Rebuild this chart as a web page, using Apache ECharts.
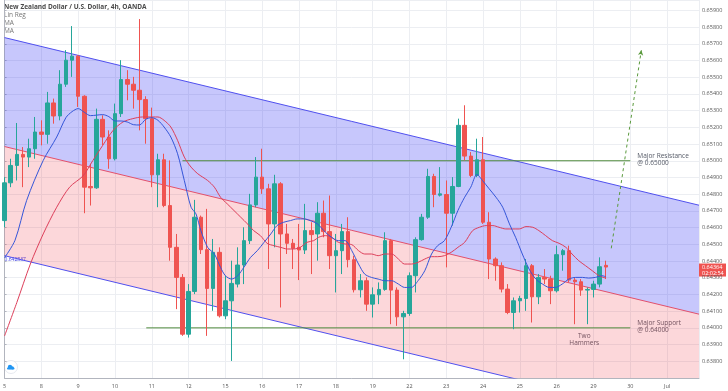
<!DOCTYPE html>
<html><head><meta charset="utf-8">
<script src="https://cdn.jsdelivr.net/npm/echarts@6/dist/echarts.min.js"></script>
<style>html,body{margin:0;padding:0;background:#fff}#c{width:728px;height:391px}</style>
</head><body><div id="c"></div>
<script>
// ---- data ----
const dayLabels = ['5','8','9','10','11','12','15','16','17','18','19','22','23','24','25','26','29','30','Jul'];
// [open, close, low, high] per 4h candle
const ohlc = [
[0.64642,0.64868,0.64602,0.64902],[0.64868,0.64972,0.64842,0.65012],[0.64972,0.65038,0.64882,0.65226],
[0.65038,0.65022,0.64842,0.65082],[0.65022,0.65072,0.64962,0.65132],[0.65072,0.65172,0.65012,0.65262],
[0.65172,0.65158,0.65092,0.65242],[0.65158,0.65346,0.65102,0.65412],[0.65346,0.65268,0.65222,0.65372],
[0.65268,0.65458,0.65242,0.65542],[0.65458,0.65602,0.65442,0.65662],[0.65602,0.65626,0.65502,0.65806],
[0.65626,0.65386,0.65322,0.65632],[0.65386,0.64842,0.64686,0.65392],[0.64846,0.64838,0.64732,0.64982],
[0.64838,0.65248,0.64832,0.65312],[0.65248,0.65142,0.65092,0.65272],[0.65142,0.65012,0.64952,0.65182],
[0.65012,0.65282,0.65002,0.65342],[0.65282,0.65486,0.65262,0.65602],[0.65486,0.65458,0.65362,0.65542],
[0.65458,0.65422,0.65312,0.65502],[0.65422,0.65366,0.65182,0.65848],[0.65366,0.65252,0.65102,0.65386],
[0.65252,0.64916,0.64842,0.65318],[0.64916,0.65006,0.64722,0.65042],[0.65006,0.64732,0.64722,0.65042],
[0.64732,0.64482,0.64402,0.65002],[0.64482,0.64302,0.64112,0.64562],[0.64302,0.63962,0.63952,0.64322],
[0.63962,0.64218,0.63942,0.64262],[0.64218,0.64662,0.64202,0.64766],[0.64662,0.64468,0.64442,0.64672],
[0.64468,0.64236,0.63952,0.64712],[0.64236,0.64452,0.64102,0.64532],[0.64452,0.64072,0.64062,0.64482],
[0.64072,0.64162,0.64052,0.64312],[0.64162,0.64266,0.63802,0.64402],[0.64262,0.64376,0.64242,0.64482],
[0.64376,0.64522,0.64262,0.64602],[0.64522,0.64736,0.64502,0.64802],[0.64736,0.64902,0.64722,0.65022],
[0.64902,0.64832,0.64802,0.65072],[0.64832,0.64622,0.64352,0.64862],[0.64622,0.64862,0.64482,0.64916],
[0.64862,0.64562,0.64122,0.64872],[0.64562,0.64506,0.64442,0.64622],[0.64506,0.64476,0.64352,0.64532],
[0.64482,0.64466,0.64286,0.64622],[0.64466,0.64582,0.64442,0.64742],[0.64582,0.64558,0.64322,0.64632],
[0.64562,0.64686,0.64402,0.64752],[0.64686,0.64576,0.64542,0.64762],[0.64576,0.64432,0.64352,0.64792],
[0.64432,0.64462,0.64212,0.64562],[0.64462,0.64576,0.64322,0.64622],[0.64576,0.64408,0.64362,0.64662],
[0.64408,0.64228,0.64212,0.64432],[0.64228,0.64282,0.64182,0.64322],[0.64282,0.64142,0.64102,0.64302],
[0.64142,0.64198,0.64062,0.64242],[0.64198,0.64230,0.64142,0.64272],[0.64230,0.64522,0.64222,0.64572],
[0.64522,0.64226,0.64022,0.64532],[0.64226,0.64066,0.64012,0.64242],[0.64066,0.64086,0.63812,0.64102],
[0.64086,0.64312,0.64072,0.64332],[0.64312,0.64528,0.64212,0.64542],[0.64528,0.64662,0.64522,0.64682],
[0.64662,0.64906,0.64652,0.64952],[0.64906,0.64798,0.64722,0.64922],[0.64794,0.64802,0.64786,0.64962],
[0.64798,0.64686,0.64362,0.64882],[0.64686,0.64846,0.64612,0.64902],[0.64846,0.65212,0.64842,0.65252],
[0.65212,0.65028,0.65002,0.65332],[0.65028,0.64912,0.64902,0.65052],[0.64912,0.65006,0.64902,0.65132],
[0.65006,0.64632,0.64622,0.65142],[0.64632,0.64412,0.64292,0.64692],[0.64412,0.64372,0.64282,0.64422],
[0.64372,0.64232,0.64212,0.64392],[0.64232,0.64092,0.64082,0.64262],[0.64092,0.64162,0.63992,0.64182],
[0.64162,0.64176,0.64092,0.64192],[0.64176,0.64372,0.64102,0.64412],[0.64372,0.64186,0.64032,0.64382],
[0.64186,0.64302,0.64142,0.64322],[0.64302,0.64292,0.64262,0.64352],[0.64292,0.64222,0.64142,0.64312],
[0.64222,0.64438,0.64212,0.64492],[0.64438,0.64462,0.64342,0.64472],[0.64462,0.64286,0.64272,0.64492],
[0.64286,0.64276,0.64022,0.64302],[0.64276,0.64226,0.64192,0.64292],[0.64226,0.64230,0.64022,0.64242],
[0.64230,0.64262,0.64182,0.64282],[0.64262,0.64366,0.64242,0.64422],[0.64374,0.64364,0.64292,0.64402]
];
// moving averages: [candle index, value]
const maFast = [[0,0.64420],[1.7,0.64524],[3.6,0.64763],[6.3,0.65002],[8.5,0.65142],[10,0.65258],[11,0.65294],[12,0.65312],
[13,0.65290],[14,0.65270],[16,0.65276],[17,0.65264],[18,0.65238],[19,0.65238],[20,0.65232],[21,0.65216],[22,0.65214],
[23,0.65248],[24,0.65258],[25,0.65242],[26,0.65202],[27.1,0.65142],[28.2,0.65042],[29.3,0.64882],[30.4,0.64722],
[31.2,0.64682],[32,0.64582],[33.1,0.64482],[34.2,0.64442],[35.2,0.64362],[36,0.64312],[37,0.64292],[38,0.64312],
[39,0.64362],[40.1,0.64422],[41.2,0.64462],[42.3,0.64512],[43.4,0.64562],[44.4,0.64612],[45.5,0.64632],[46.6,0.64642],
[47.7,0.64652],[48.8,0.64652],[49.8,0.64642],[51,0.64622],[52.3,0.64572],[53.3,0.64542],[54.4,0.64522],[55.5,0.64522],
[56.6,0.64462],[57.7,0.64382],[58.7,0.64322],[59.8,0.64302],[60.9,0.64292],[62,0.64282],[63.1,0.64282],[64.2,0.64262],
[65.2,0.64242],[66.3,0.64242],[67.4,0.64282],[68.5,0.64342],[69.6,0.64442],[70.6,0.64492],[71.7,0.64522],[72.8,0.64602],
[73.9,0.64702],[75,0.64782],[76,0.64842],[77,0.64918],[77.9,0.64882],[79,0.64832],[80.1,0.64782],[81.2,0.64722],
[82.3,0.64622],[83.3,0.64542],[84.4,0.64442],[85.5,0.64352],[86.6,0.64292],[87.7,0.64262],[88.8,0.64242],[89.8,0.64242],
[90.9,0.64262],[92,0.64292],[93.1,0.64302],[94.2,0.64302],[95.2,0.64298],[96.3,0.64302],[97.4,0.64312],[98,0.64306]];
const maSlow = [[0,0.63952],[2,0.64152],[4.2,0.64382],[6.3,0.64562],[8.5,0.64722],[10.6,0.64842],[12.8,0.64910],[14.4,0.65002],
[16,0.65092],[17.7,0.65182],[19.3,0.65232],[20.9,0.65252],[22.5,0.65262],[24.2,0.65262],[25,0.65262],[26,0.65242],
[27.1,0.65202],[28.2,0.65122],[29.3,0.65022],[30.4,0.64962],[31.5,0.64922],[33.1,0.64882],[34.2,0.64842],[35.2,0.64782],
[36.3,0.64742],[37.4,0.64702],[38.5,0.64662],[39.6,0.64622],[40.6,0.64582],[41.7,0.64552],[42.8,0.64506],[43.9,0.64492],
[45,0.64482],[46.1,0.64472],[47.1,0.64472],[48.2,0.64482],[49.3,0.64512],[50.4,0.64522],[51.2,0.64542],[52.3,0.64552],
[53.3,0.64542],[54.4,0.64512],[55.5,0.64502],[56.6,0.64498],[57.7,0.64462],[58.7,0.64442],[59.8,0.64442],[60.9,0.64432],
[62,0.64442],[63.1,0.64442],[64.2,0.64412],[65.2,0.64382],[66.3,0.64382],[67.4,0.64392],[68.5,0.64412],[69.6,0.64426],
[70.6,0.64426],[71.7,0.64432],[72.8,0.64452],[73.9,0.64482],[75,0.64512],[76.3,0.64582],[77.4,0.64602],[78.5,0.64612],
[79.6,0.64612],[80.6,0.64602],[81.7,0.64592],[82.8,0.64592],[83.9,0.64592],[85,0.64606],[86.1,0.64602],[87.1,0.64582],
[88.2,0.64552],[89.3,0.64522],[90.4,0.64506],[91.5,0.64482],[92.5,0.64442],[93.6,0.64402],[94.7,0.64372],[95.8,0.64342],
[96.9,0.64312],[98,0.64298]];
// linear regression channel (ends)
const chanX = [0, 113.2];
const chanUpper = [0.65737, 0.64734];
const chanMiddle = [0.65085, 0.64082];
const chanLower = [0.64432, 0.63430];
const chanLabel = '0.642837';
// horizontal levels [value, from index, to index]
const resistance = [0.65000, 29, 102];
const support = [0.64000, 23.1, 102];
const projection = [[98.9, 0.64476], [103.8, 0.65661]];
const lastPrice = 0.64364;
const countdown = '02:02:54';

const chart = echarts.init(document.getElementById('c'), null, {renderer:'canvas'});
const FONT = '"Open Sans", "DejaVu Sans", sans-serif';
const green = '#26a69a', red = '#ef5350', levelGreen = '#4f8a3c';
const bandFills = ['rgba(33,33,243,0.25)', 'rgba(242,54,69,0.2)'];

function clipPoly(pts, r){
  const bounds = [[0, r.x, 1], [0, r.x + r.width, -1], [1, r.y, 1], [1, r.y + r.height, -1]];
  let out = pts;
  for (const [k, v, s] of bounds){
    const input = out; out = [];
    for (let i = 0; i < input.length; i++){
      const a = input[i], b = input[(i + 1) % input.length];
      const ina = s * (a[k] - v) >= 0, inb = s * (b[k] - v) >= 0;
      const cut = () => { const t = (v - a[k]) / (b[k] - a[k]); return [a[0] + t*(b[0]-a[0]), a[1] + t*(b[1]-a[1])]; };
      if (ina) out.push(a);
      if (ina !== inb) out.push(cut());
    }
  }
  return out;
}

function bandItem(params, api){
  const k = api.value(0);
  const top = k === 0 ? chanUpper : chanMiddle;
  const bot = k === 0 ? chanMiddle : chanLower;
  const pts = [api.coord([chanX[0], top[0]]), api.coord([chanX[1], top[1]]),
               api.coord([chanX[1], bot[1]]), api.coord([chanX[0], bot[0]])];
  const cs = params.coordSys;
  return {type:'polygon', shape:{points:clipPoly(pts, cs)}, style:{fill:bandFills[k]}};
}

chart.setOption({
  animation:false,
  backgroundColor:'#ffffff',
  grid:{left:1, right:29, top:0, bottom:13},
  xAxis:{type:'value', min:0, max:113.2, interval:6,
    axisLine:{lineStyle:{color:'#b2b5be'}}, axisTick:{show:false},
    axisLabel:{formatter:v=>dayLabels[Math.round(v/6)] || '', fontSize:5.5, color:'#555', margin:5, fontFamily:FONT, showMaxLabel:false},
    splitLine:{show:true, lineStyle:{color:'#eceef2', width:1}}},
  yAxis:{type:'value', position:'right', min:0.637, max:0.65962, interval:0.001, scale:true,
    axisLine:{show:true, lineStyle:{color:'#b2b5be'}},
    axisTick:{show:true, length:2, lineStyle:{color:'#b2b5be'}},
    axisLabel:{formatter:v=>v.toFixed(5), fontSize:5.5, color:'#555', margin:3, fontFamily:FONT, showMinLabel:false, showMaxLabel:false},
    splitLine:{show:true, lineStyle:{color:'#eceef2', width:1}}},
  series:[
    {type:'custom', z:1, renderItem:bandItem, encode:{x:1, y:2}, data:[[0, chanX[0], chanUpper[0]], [1, chanX[0], chanMiddle[0]]]},
    {type:'line', symbol:'none', z:2, data:chanX.map((x,k)=>[x, chanUpper[k]]), lineStyle:{color:'#5050ee', width:1}},
    {type:'line', symbol:'none', z:2, data:chanX.map((x,k)=>[x, chanMiddle[k]]), lineStyle:{color:'#e2506c', width:1}},
    {type:'line', symbol:'none', z:2, data:chanX.map((x,k)=>[x, chanLower[k]]), lineStyle:{color:'#5050ee', width:1}},
    {type:'line', symbol:'none', z:2, data:[[resistance[1],resistance[0]],[resistance[2],resistance[0]]], lineStyle:{color:levelGreen, width:1}},
    {type:'line', symbol:'none', z:2, data:[[support[1],support[0]],[support[2],support[0]]], lineStyle:{color:levelGreen, width:1}},
    {type:'candlestick', z:3, barWidth:4, encode:{x:0, y:[1,2,3,4]},
      data:ohlc.map((r,i)=>[i, r[0], r[1], r[2], r[3]]),
      itemStyle:{color:green, color0:red, borderColor:green, borderColor0:red, borderWidth:1}},
    {type:'line', symbol:'none', z:4, smooth:0.3, data:maSlow, lineStyle:{color:'#dc3f5a', width:1}},
    {type:'line', symbol:'none', z:4, smooth:0.3, data:maFast, lineStyle:{color:'#3556d8', width:1}},
    {type:'line', symbol:'none', z:5, data:[], markLine:{silent:true, symbol:['none','arrow'], symbolSize:[4,5],
      label:{show:false}, lineStyle:{color:'#5a9a3c', type:[3,3], width:1},
      data:[[{coord:projection[0]},{coord:projection[1]}]]}}
  ]
});

function px(x, y){ return chart.convertToPixel({gridIndex:0}, [x, y]); }
const pRes = px(resistance[2], resistance[0]);
const pSup = px(support[2], support[0]);
const pLow = px(chanX[0], chanLower[0]);
const pHam = px(94.5, support[0]);
const pLast = px(chanX[1], lastPrice);
const annotFill = '#555a66';
chart.setOption({graphic:[
  {type:'text', x:4, y:6.7, style:{text:'New Zealand Dollar / U.S. Dollar, 4h, OANDA', font:'bold 6.5px '+FONT, fill:'#4a4a4a', verticalAlign:'middle'}},
  {type:'text', x:4, y:15.3, style:{text:'Lin Reg', font:'6.5px '+FONT, fill:'#777', verticalAlign:'middle'}},
  {type:'text', x:4, y:23.3, style:{text:'MA', font:'6.5px '+FONT, fill:'#777', verticalAlign:'middle'}},
  {type:'text', x:4, y:31, style:{text:'MA', font:'6.5px '+FONT, fill:'#777', verticalAlign:'middle'}},
  {type:'text', x:pRes[0]+7, y:pRes[1]-1.5, style:{text:'Major Resistance\n@ 0.65000', font:'6.5px '+FONT, lineHeight:7, fill:annotFill, verticalAlign:'middle'}},
  {type:'text', x:pSup[0]+7, y:pSup[1]-1.5, style:{text:'Major Support\n@ 0.64000', font:'6.5px '+FONT, lineHeight:7, fill:annotFill, verticalAlign:'middle'}},
  {type:'text', x:pHam[0], y:pHam[1]+12, style:{text:'Two\nHammers', font:'6.5px '+FONT, lineHeight:6.5, fill:annotFill, align:'center', verticalAlign:'middle'}},
  {type:'text', x:pLow[0], y:pLow[1]+4, style:{text:chanLabel, font:'5px '+FONT, fill:'#3a3ae0', verticalAlign:'middle'}},
  {type:'rect', shape:{x:pLast[0], y:pLast[1]-3.5, width:27, height:13}, style:{fill:'#ef5350'}},
  {type:'text', x:pLast[0]+3, y:pLast[1], style:{text:lastPrice.toFixed(5), font:'5.5px '+FONT, fill:'#fff', verticalAlign:'middle'}},
  {type:'text', x:pLast[0]+3, y:pLast[1]+6.5, style:{text:countdown, font:'5.5px '+FONT, fill:'#fff', verticalAlign:'middle'}},
  {type:'circle', shape:{cx:11, cy:367, r:6.5}, style:{fill:'#fff', stroke:'#e0e3eb', lineWidth:0.8}},
  {type:'circle', shape:{cx:10, cy:367, r:2.2}, style:{fill:'#2196f3'}},
  {type:'circle', shape:{cx:12.3, cy:367.8, r:1.6}, style:{fill:'#2196f3'}},
  {type:'rect', shape:{x:7, y:367.6, width:7.5, height:1.8, r:0.9}, style:{fill:'#2196f3'}}
]});
</script></body></html>
